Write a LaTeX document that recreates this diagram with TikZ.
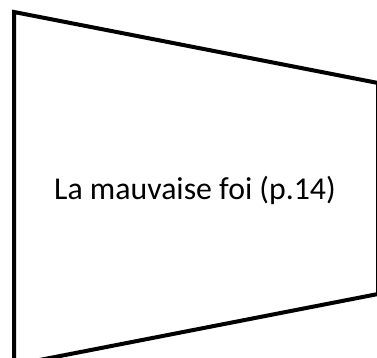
\documentclass[tikz,border=0pt]{standalone}
\usepackage{fontspec}
\setmainfont{Carlito}
\begin{document}
\begin{tikzpicture}[x=1pt,y=-1pt,
  shapeline/.style={draw=black,line width=4pt,line join=miter,fill=white},
  label/.style={font=\fontsize{31.8}{36}\selectfont,text=black}]
\useasboundingbox (0,0) rectangle (377,358);
\clip (0,0) rectangle (377,358);
\draw[shapeline] (14,12) -- (378,83) -- (378,294) -- (14,365) -- cycle;
\node[label] (t) at (195,190) {La mauvaise foi (p.14)};
\end{tikzpicture}
\end{document}
